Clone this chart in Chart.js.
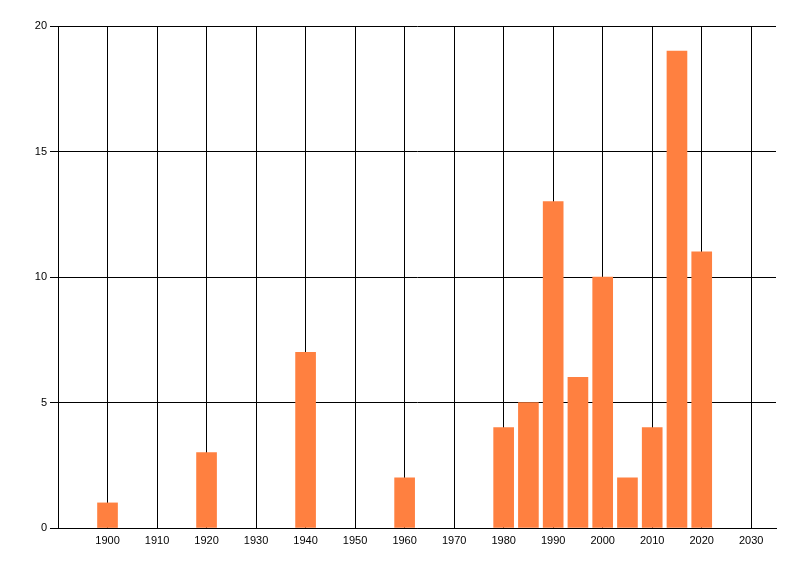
<!DOCTYPE html>
<html>
<head>
<meta charset="utf-8">
<script src="https://cdn.jsdelivr.net/npm/chart.js@4/dist/chart.umd.min.js"></script>
<style>
  html, body { margin: 0; padding: 0; background: #fff; }
  #wrap { width: 800px; height: 576px; }
</style>
</head>
<body>
<div id="wrap"><canvas id="myChart" width="800" height="576"></canvas></div>
<script>
// データ
const years = [1900, 1920, 1940, 1960, 1980, 1985, 1990, 1995, 2000, 2005, 2010, 2015, 2020];
const counts = [1, 3, 7, 2, 4, 5, 13, 6, 10, 2, 4, 19, 11];
const yTicks = [0, 5, 10, 15, 20];

const points = years.map((yr, i) => ({ x: yr, y: counts[i] }));

const tickFont = { family: '"Liberation Sans", Arial, sans-serif', size: 11 };

const barChart = new Chart(document.getElementById('myChart'), {
  type: 'bar',
  data: {
    datasets: [
      {
        data: points,
        backgroundColor: '#ff8040',
        borderWidth: 0,
        barThickness: 20,
      },
    ],
  },
  options: {
    responsive: false,
    animation: false,
    devicePixelRatio: 1,
    layout: { padding: { top: 26, right: 24, left: 0, bottom: 0 } },
    plugins: {
      legend: { display: false },
      tooltip: { enabled: false },
    },
    scales: {
      x: {
        type: 'linear',
        min: 1890,
        max: 2035,
        offset: false,
        grid: { color: '#000', lineWidth: 1, drawTicks: false, offset: false },
        border: { color: '#000', width: 1 },
        ticks: {
          stepSize: 10,
          includeBounds: false,
          autoSkip: false,
          maxRotation: 0,
          color: '#000',
          font: tickFont,
          padding: 6,
          callback: (v) => (v === 1890 ? '' : String(v)),
        },
        afterFit: (scale) => { scale.height = 48; },
      },
      y: {
        min: 0,
        max: 20,
        grid: { color: '#000', lineWidth: 1, tickLength: 8, tickColor: '#000' },
        border: { color: '#000', width: 1 },
        afterBuildTicks: (scale) => { scale.ticks = yTicks.map(v => ({ value: v })); },
        ticks: {
          color: '#000',
          font: tickFont,
          padding: 3,
        },
        afterFit: (scale) => { scale.width = 58; },
      },
    },
  },
});
</script>
</body>
</html>
